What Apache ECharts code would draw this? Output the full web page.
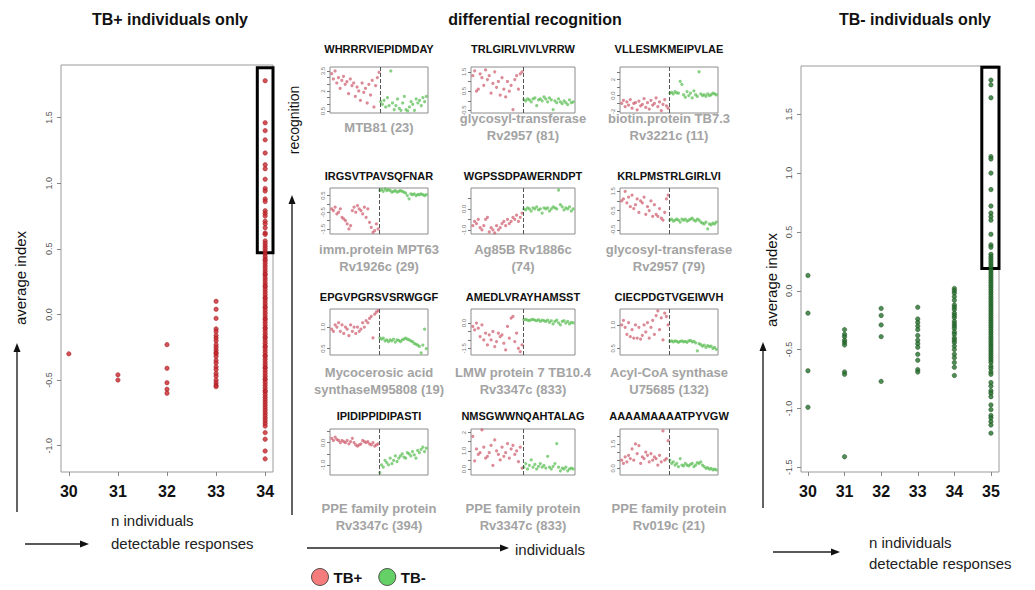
<!DOCTYPE html>
<html><head><meta charset="utf-8">
<script src="https://cdn.jsdelivr.net/npm/echarts@6/dist/echarts.min.js"></script>
<style>html,body{margin:0;padding:0;background:#fff}#c{width:1035px;height:590px}</style>
</head><body><div id="c"></div>
<script>
// ---------------- DATA ----------------
// Left panel: TB+ individuals only (x = n individuals with detectable responses)
const tbPosCats = [30, 31, 32, 33, 34];
const tbPos30 = [-0.30];
const tbPos31 = [-0.46, -0.50];
const tbPos32 = [-0.23, -0.41, -0.52, -0.57, -0.60];
const tbPos33 = [0.10, 0.04, -0.03, -0.11, -0.13, -0.16, -0.18, -0.20, -0.23, -0.25, -0.27, -0.29, -0.30, -0.32, -0.35, -0.37, -0.40, -0.42, -0.45, -0.47, -0.50, -0.52, -0.54, -0.55];
const tbPos34 = [1.78, 1.46, 1.40, 1.33, 1.23, 1.14, 1.11, 1.03, 0.96, 0.94, 0.88, 0.86, 0.79, 0.77, 0.75, 0.71, 0.69, 0.66, 0.62, 0.61, 0.56, 0.54, 0.52, 0.50, 0.48, 0.46, 0.44, 0.42, 0.41, 0.39, 0.37, 0.35, 0.33, 0.31, 0.30, 0.28, 0.26, 0.24, 0.22, 0.21, 0.19, 0.17, 0.15, 0.13, 0.12, 0.10, 0.08, 0.06, 0.05, 0.03, 0.01, -0.01, -0.03, -0.04, -0.06, -0.08, -0.10, -0.11, -0.13, -0.15, -0.17, -0.18, -0.20, -0.22, -0.24, -0.25, -0.27, -0.29, -0.31, -0.32, -0.34, -0.36, -0.38, -0.40, -0.41, -0.43, -0.45, -0.47, -0.49, -0.50, -0.52, -0.54, -0.56, -0.58, -0.59, -0.61, -0.63, -0.65, -0.67, -0.69, -0.71, -0.73, -0.75, -0.77, -0.79, -0.81, -0.83, -0.85, -0.90, -0.95, -1.04, -1.10];
const tbPosYTicks = [-1.0, -0.5, 0.0, 0.5, 1.0, 1.5];

// Right panel: TB- individuals only
const tbNegCats = [30, 31, 32, 33, 34, 35];
const tbNeg30 = [0.13, -0.19, -0.68, -0.99];
const tbNeg31 = [-0.33, -0.37, -0.39, -0.42, -0.44, -0.46, -0.69, -0.71, -1.41];
const tbNeg32 = [-0.15, -0.21, -0.29, -0.39, -0.77];
const tbNeg33 = [-0.14, -0.24, -0.27, -0.30, -0.33, -0.38, -0.42, -0.45, -0.48, -0.54, -0.59, -0.67, -0.69];
const tbNeg34 = [0.02, 0.00, -0.02, -0.05, -0.08, -0.12, -0.14, -0.16, -0.19, -0.21, -0.23, -0.26, -0.28, -0.30, -0.32, -0.35, -0.37, -0.40, -0.42, -0.44, -0.47, -0.50, -0.54, -0.57, -0.61, -0.65, -0.72];
const tbNeg35 = [1.79, 1.75, 1.64, 1.14, 1.12, 1.00, 0.86, 0.72, 0.66, 0.63, 0.60, 0.48, 0.39, 0.37, 0.31, 0.29, 0.27, 0.25, 0.23, 0.21, 0.19, 0.17, 0.15, 0.13, 0.11, 0.09, 0.07, 0.05, 0.03, 0.01, -0.01, -0.03, -0.05, -0.07, -0.09, -0.11, -0.13, -0.15, -0.17, -0.19, -0.21, -0.23, -0.25, -0.27, -0.29, -0.31, -0.33, -0.35, -0.37, -0.39, -0.41, -0.43, -0.45, -0.47, -0.49, -0.51, -0.53, -0.55, -0.57, -0.59, -0.61, -0.64, -0.66, -0.69, -0.71, -0.78, -0.81, -0.85, -0.87, -0.90, -0.97, -1.01, -1.06, -1.08, -1.11, -1.14, -1.21];
const tbNegYTicks = [-1.5, -1.0, -0.5, 0.0, 0.5, 1.0, 1.5];

// Middle: differential recognition, one pair of arrays per peptide (TB+ first, then TB-)
const peptides = ["WHRRRVIEPIDMDAY", "TRLGIRLVIVLVRRW", "VLLESMKMEIPVLAE",
                  "IRGSVTPAVSQFNAR", "WGPSSDPAWERNDPT", "KRLPMSTRLGIRLVI",
                  "EPGVPGRSVSRWGGF", "AMEDLVRAYHAMSST", "CIECPDGTVGEIWVH",
                  "IPIDIPPIDIPASTI", "NMSGWWNQAHTALAG", "AAAAMAAAATPYVGW"];
const proteins = ["MTB81 (23)", "glycosyl-transferase\nRv2957 (81)", "biotin.protein TB7.3\nRv3221c (11)",
                  "imm.protein MPT63\nRv1926c (29)", "Ag85B Rv1886c\n(74)", "glycosyl-transferase\nRv2957 (79)",
                  "Mycocerosic acid\nsynthaseM95808 (19)", "LMW protein 7 TB10.4\nRv3347c (833)", "Acyl-CoA synthase\nU75685 (132)",
                  "PPE family protein\nRv3347c (394)", "PPE family protein\nRv3347c (833)", "PPE family protein\nRv019c (21)"];
const mini1Pos = [3.3, 2.9, 3.5, 2.6, 3.0, 2.2, 2.8, 3.1, 2.5, 2.7, 1.8, 2.9, 2.4, 2.6, 1.6, 2.3, 2.0, 1.3, 2.6, 1.9, 2.2, 1.1, 2.5, 1.7, 2.8, 0.8, 2.4, 3.0, 3.4];
const mini1Neg = [1.2, 1.0, 1.3, 0.8, 1.5, 0.9, 3.5, 1.1, 0.6, 0.9, 1.4, 0.7, 0.55, 1.1, 1.6, 0.6, 0.5, 0.8, 1.2, 1.0, 0.55, 1.4, 1.1, 1.3, 0.9, 1.5, 1.2, 1.6];
const mini2Pos = [1.3, 1.55, 0.5, 0.6, 1.4, 1.2, 0.8, 1.6, 1.1, 1.3, 0.4, 0.9, 1.5, 0.7, 1.0, 0.3, 1.2, 0.6, 0.2, 1.0, 0.5, 0.8, -0.45, 1.1, 1.3, 0.6, 1.4, 1.5];
const mini2Neg = [0.05, 0.0, 0.1, 0.05, -0.05, 0.1, 0.15, -0.25, 0.05, 0.1, 0.0, 0.2, 0.1, -0.05, 0.15, 0.05, -0.45, 0.0, -0.1, 0.1, -0.05, -0.15, 0.0, -0.1, -0.2, 0.05, -0.1, -0.05];
const mini3Pos = [-1.0, -0.6, -1.4, -0.8, -1.2, -0.5, -1.6, -1.0, -0.9, -1.8, -0.7, -1.3, -1.1, -0.4, -1.5, -0.9, -1.7, -0.6, -1.2, -1.0, -0.3, -1.4, -0.8, -1.9, -1.1, -0.5, -1.3, -1.6];
const mini3Neg = [0.3, 0.4, 0.2, 0.5, 0.35, 0.3, 1.8, 1.4, 0.1, -0.2, 0.5, 0.0, 0.3, -0.3, 0.6, 0.1, -0.1, 3.0, 0.2, 0.0, 0.1, -0.1, 0.2, 0.0, 0.1, 0.3, 0.2, 0.1];
const mini4Pos = [-0.3, -0.4, -0.2, -0.6, -0.5, -0.3, -0.8, -0.9, -1.0, -1.2, -1.5, -1.3, -0.4, -0.2, -0.5, -0.1, -0.3, -0.4, -0.6, -0.2, -0.8, -0.3, -1.1, -1.4, -1.7, -1.6, -1.2, -1.5];
const mini4Neg = [0.8, 0.85, 0.75, 0.9, 0.8, 0.85, 0.8, 0.7, 0.75, 0.8, 0.7, 0.75, 0.8, 0.75, 0.7, 0.65, 0.5, 0.3, 0.6, 0.55, 0.6, 0.5, 0.55, 0.55, 0.6, 0.55, 0.5, 0.55];
const mini5Pos = [-0.8, -0.6, -0.7, -0.5, -0.9, -1.0, -0.8, -0.5, -0.4, -1.1, -0.9, -1.0, -1.15, -0.8, -1.0, -0.9, -0.7, -0.6, -0.8, -0.5, -0.7, -0.6, -0.4, -0.5, -0.3, -0.6, -0.4, -0.2];
const mini5Neg = [0.0, -0.05, 0.05, 0.0, -0.1, 0.05, 0.0, 0.1, -0.05, 0.0, -0.2, 0.05, 0.0, 0.05, -0.1, 0.0, 0.1, 0.05, 0.0, 0.9, 0.2, 0.1, -0.05, 0.05, 0.0, 0.1, -0.1, 0.0];
const mini6Pos = [1.0, 1.1, 1.5, 0.9, 1.2, 0.7, 1.3, 0.6, 0.8, 1.1, 0.4, 1.0, 0.9, 1.2, 0.3, 0.7, 0.5, 1.0, 0.2, 0.8, 0.3, 0.2, 0.6, 0.1, 0.0, 0.4, 1.1, 1.3];
const mini6Neg = [0.0, 0.05, -0.05, 0.0, 0.05, 0.0, -0.1, 0.05, 0.0, 0.05, -0.05, 0.0, 0.05, 0.1, 0.0, -0.05, 0.05, 0.0, -0.1, -0.15, -0.2, -0.1, -0.45, -0.2, -0.25, -0.15, -0.2, -0.1];
const mini7Pos = [0.95, 0.9, 1.05, 1.0, 1.1, 0.9, 1.05, 0.85, 1.0, 0.95, 0.8, 1.05, 0.9, 1.0, 0.85, 1.0, 0.9, 0.95, 1.1, 1.0, 1.15, 1.1, 1.2, 1.25, 0.75, 1.3, 1.35, 1.38];
const mini7Neg = [0.75, 0.72, 0.74, 0.68, 0.7, 0.66, 0.7, 0.68, 0.72, 0.65, 0.7, 0.69, 0.66, 0.7, 0.72, 0.74, 0.72, 0.7, 0.68, 0.66, 0.62, 0.6, 0.58, 0.55, 0.4, 0.58, 0.95, 0.5];
const mini8Pos = [-0.2, -0.4, 0.0, -0.3, -0.8, -0.1, -1.0, -0.6, -1.3, -0.7, -1.0, -0.5, -1.4, -1.1, -0.6, -0.8, -0.7, -1.2, -1.6, -0.2, -0.9, 0.3, 0.4, -1.1, -0.6, -1.5, -1.7, -1.3];
const mini8Neg = [0.2, 0.22, 0.18, 0.15, 0.2, 0.22, 0.18, 0.14, 0.2, 0.1, 0.18, 0.14, 0.1, 0.18, 0.05, 0.14, -0.05, 0.1, 0.18, 0.02, -0.1, 0.1, 0.14, 0.0, 0.1, -0.05, 0.05, 0.02];
const mini9Pos = [1.0, 1.1, 0.95, 0.8, 1.05, 0.75, 0.9, 0.72, 1.0, 0.72, 0.95, 0.7, 0.78, 1.0, 0.85, 1.05, 0.72, 0.95, 1.1, 0.8, 1.2, 1.3, 0.9, 1.15, 0.68, 1.25, 1.18, 1.0];
const mini9Neg = [0.65, 0.66, 0.64, 0.66, 0.65, 0.63, 0.65, 0.66, 0.64, 0.65, 0.63, 0.66, 0.67, 0.64, 0.65, 0.62, 0.45, 0.6, 0.58, 0.55, 0.57, 0.52, 0.56, 0.54, 0.55, 0.5, 0.52, 0.48];
const mini10Pos = [0.2, 0.1, 0.25, 0.15, 0.1, 0.0, 0.1, 0.05, 0.0, 0.1, -0.05, 0.05, 0.2, 0.0, -0.1, -0.15, -0.1, -0.05, 0.1, 0.05, 0.0, 0.05, -0.05, -0.1, 0.0, -0.15, -0.1, -0.05];
const mini10Neg = [-1.35, -1.0, -1.1, -0.8, -0.9, -1.0, -0.7, -0.95, -0.8, -0.6, -0.85, -0.7, -0.6, -0.5, -0.65, -0.7, -0.45, -0.5, -0.6, -0.4, -0.55, -0.7, -0.35, -0.45, -0.3, -0.2, -0.4, -0.25];
const mini11Pos = [1.8, 0.45, 1.1, 0.8, 0.9, 2.15, 1.2, 0.6, 0.7, 0.9, 1.3, 0.2, 1.6, 1.0, 0.8, 0.5, 1.2, 0.7, 0.9, 1.4, 0.6, 1.1, 1.3, 0.8, 1.0, 0.4, 1.2, 0.05];
const mini11Neg = [0.1, 0.3, 0.0, 0.2, 0.5, 0.1, 0.25, 0.0, 0.15, 0.3, 0.1, 0.2, 0.05, 0.7, 0.1, 0.0, 0.15, 0.3, 1.4, 0.1, -0.1, 0.05, 0.0, 0.1, -0.1, 0.0, 0.05, 0.0];
const mini12Pos = [0.5, 0.3, 0.7, 0.4, 0.8, 0.6, 1.2, 0.5, 1.5, 0.9, 1.4, 0.3, 0.7, 0.6, 1.0, 0.8, 0.4, 0.9, 0.5, 0.7, 0.6, 0.2, 0.8, 0.4, 2.3, 0.5, 0.6, 1.7];
const mini12Neg = [0.5, 0.3, 0.4, 0.2, 0.3, 0.1, 0.6, 0.2, 0.15, 0.3, 0.2, 0.15, 0.25, 0.3, 0.1, 0.2, 0.35, 0.3, 0.4, 0.2, 0.1, 0.0, 0.05, -0.05, 0.0, -0.1, -0.05, -0.1];
// y-axis range / tick values / labelled ticks of each small panel
const miniYRange = [[0.35, 3.8], [-0.63, 1.75], [-2.2, 3.6], [-1.8, 0.95], [-1.2, 1.0], [-0.72, 1.67],
                    [0.35, 1.42], [-1.9, 0.84], [0.36, 1.34], [-1.46, 0.62], [-0.33, 2.2], [-0.41, 2.42]];
const miniYTicks = [[0.5, 1, 1.5, 2, 2.5, 3, 3.5], [-0.5, 0, 0.5, 1, 1.5], [-2, -1, 0, 1, 2, 3], [-1.5, -1, -0.5, 0, 0.5], [-1, -0.5, 0, 0.5], [-0.5, 0, 0.5, 1, 1.5],
                    [0.5, 1.0], [-1.5, -1, -0.5, 0], [0.5, 1.0], [-1, -0.5, 0, 0.5], [0, 0.5, 1, 1.5, 2], [0, 0.5, 1, 1.5, 2]];
const miniYLabels = [[0.5, 2.0, 3.5], [-0.5, 0.5, 1.5], [-2, 0, 2], [-1.5, -0.5, 0.5], [-1.0, 0.0], [-0.5, 0.5, 1.5],
                     [0.5, 1.0], [-1.5, 0.0], [0.5, 1.0], [-1.0, 0.0], [0.0, 1.0, 2.0], [0.0, 1.5]];
const miniPos = [mini1Pos, mini2Pos, mini3Pos, mini4Pos, mini5Pos, mini6Pos, mini7Pos, mini8Pos, mini9Pos, mini10Pos, mini11Pos, mini12Pos];
const miniNeg = [mini1Neg, mini2Neg, mini3Neg, mini4Neg, mini5Neg, mini6Neg, mini7Neg, mini8Neg, mini9Neg, mini10Neg, mini11Neg, mini12Neg];

// ---------------- LAYOUT ----------------
const FONT = "'Liberation Sans', Arial, sans-serif";
const colLeft = [330, 471, 620], colW = [98, 104, 98];
const rowTop = [67, 188, 309, 429], rowH = 46;
const seqY = [49, 176, 297, 416];
const nameY = [127, 258, 381, 516.5];

const grids = [
  {left: 61, top: 65, width: 212, height: 407},
  {left: 801, top: 66, width: 198, height: 406}
];
grids.forEach(g => { g.show = true; g.borderColor = '#9a9a9a'; g.borderWidth = 1; g.backgroundColor = 'transparent'; g.outerBoundsMode = 'none'; });

const fmt = v => (Number.isInteger(v) && Math.abs(v) >= 2 ? String(v) : v.toFixed(1));

function mainX(idx, min, max, cats) {
  return {gridIndex: idx, type: 'value', min: min, max: max, position: 'bottom',
    axisLine: {show: false, onZero: false}, splitLine: {show: false},
    axisTick: {show: true, length: 4, lineStyle: {color: '#888'}, customValues: cats},
    axisLabel: {customValues: cats, margin: 11, fontSize: 16, fontWeight: 'bold', color: '#111', fontFamily: FONT}};
}
function mainY(idx, min, max, ticks) {
  return {gridIndex: idx, type: 'value', min: min, max: max, position: 'left',
    axisLine: {show: false, onZero: false}, splitLine: {show: false},
    axisTick: {show: true, length: 4, lineStyle: {color: '#888'}, customValues: ticks},
    axisLabel: {customValues: ticks, rotate: 90, margin: 8, fontSize: 9, color: '#555', fontFamily: FONT, formatter: v => v.toFixed(1)}};
}

const xAxes = [mainX(0, 29.84, 34.16, tbPosCats), mainX(1, 29.81, 35.22, tbNegCats)];
const yAxes = [mainY(0, -1.2, 1.9, tbPosYTicks), mainY(1, -1.54, 1.91, tbNegYTicks)];
const series = [];

const posCols = [tbPos30, tbPos31, tbPos32, tbPos33, tbPos34];
posCols.forEach((arr, i) => {
  const s = {type: 'scatter', name: 'TB+ only', xAxisIndex: 0, yAxisIndex: 0, symbolSize: 4.5, clip: false, silent: true,
    itemStyle: {color: '#c8242b', borderColor: '#8e1a1e', borderWidth: 0.5},
    data: arr.map(v => [tbPosCats[i], v])};
  if (i === posCols.length - 1) {
    s.markArea = {silent: true, itemStyle: {color: 'rgba(0,0,0,0)', borderColor: '#000', borderWidth: 3},
      data: [[{coord: [33.84, 1.88]}, {coord: [34.2, 0.47]}]]};
  }
  series.push(s);
});
const negCols = [tbNeg30, tbNeg31, tbNeg32, tbNeg33, tbNeg34, tbNeg35];
negCols.forEach((arr, i) => {
  const s = {type: 'scatter', name: 'TB- only', xAxisIndex: 1, yAxisIndex: 1, symbolSize: 4.5, clip: false, silent: true,
    itemStyle: {color: '#23702a', borderColor: '#173f19', borderWidth: 0.5},
    data: arr.map(v => [tbNegCats[i], v])};
  if (i === negCols.length - 1) {
    s.markArea = {silent: true, itemStyle: {color: 'rgba(0,0,0,0)', borderColor: '#000', borderWidth: 3},
      data: [[{coord: [34.75, 1.90]}, {coord: [35.22, 0.19]}]]};
  }
  series.push(s);
});

const graphics = [];
function txt(x, y, text, font, fill, align, rot) {
  graphics.push({type: 'text', x: x, y: y, rotation: rot || 0, silent: true,
    style: {text: text, x: 0, y: 0, font: font, fill: fill || '#000',
      textAlign: align || 'center', align: align || 'center', textVerticalAlign: 'middle', verticalAlign: 'middle', lineHeight: 17}});
}

for (let k = 0; k < 12; k++) {
  const r = Math.floor(k / 3), c = k % 3;
  const gi = grids.length;
  grids.push({left: colLeft[c], top: rowTop[r], width: colW[c], height: rowH, show: true,
    borderColor: '#8c8c8c', borderWidth: 1, backgroundColor: 'transparent', outerBoundsMode: 'none'});
  const nP = miniPos[k].length, nN = miniNeg[k].length;
  xAxes.push({gridIndex: gi, type: 'value', min: 0, max: nP + nN + 1, show: false});
  yAxes.push({gridIndex: gi, type: 'value', min: miniYRange[k][0], max: miniYRange[k][1], position: 'left',
    axisLine: {show: false, onZero: false}, splitLine: {show: false},
    axisTick: {show: true, length: 3, lineStyle: {color: '#777'}, customValues: miniYTicks[k]},
    axisLabel: {customValues: miniYLabels[k], rotate: 90, margin: 4, fontSize: 6, color: '#777', fontFamily: FONT, formatter: fmt}});
  series.push({type: 'scatter', name: 'TB+', xAxisIndex: gi, yAxisIndex: gi, symbolSize: 3.2, silent: true,
    itemStyle: {color: 'rgba(204,82,100,0.85)'},
    data: miniPos[k].map((v, i) => [i + 1, v]),
    markLine: {silent: true, symbol: 'none', label: {show: false},
      lineStyle: {type: 'dashed', color: '#555', width: 1}, data: [{xAxis: nP + 0.5}]}});
  series.push({type: 'scatter', name: 'TB-', xAxisIndex: gi, yAxisIndex: gi, symbolSize: 3.2, silent: true,
    itemStyle: {color: 'rgba(80,186,72,0.85)'},
    data: miniNeg[k].map((v, i) => [nP + i + 1, v])});
  const cx = colLeft[c] + colW[c] / 2;
  txt(cx, seqY[r], peptides[k], 'bold 11px ' + FONT, '#111');
  txt(cx, nameY[r], proteins[k], 'bold 13px ' + FONT, '#a3a3a3');
}

// titles
txt(170, 19, 'TB+ individuals only', 'bold 16px ' + FONT, '#111');
txt(535, 19, 'differential recognition', 'bold 16px ' + FONT, '#111');
txt(915, 19, 'TB- individuals only', 'bold 16px ' + FONT, '#111');
// axis captions
txt(20, 278, 'average index', '15px ' + FONT, '#111', 'center', Math.PI / 2);
txt(294, 120, 'recognition', '14px ' + FONT, '#111', 'center', Math.PI / 2);
txt(771, 280, 'average index', '15px ' + FONT, '#111', 'center', Math.PI / 2);
txt(111, 520, 'n individuals', '15px ' + FONT, '#222', 'left');
txt(111, 543, 'detectable responses', '15px ' + FONT, '#222', 'left');
txt(515, 549, 'individuals', '15px ' + FONT, '#222', 'left');
txt(869, 542, 'n individuals', '15px ' + FONT, '#222', 'left');
txt(869, 563, 'detectable responses', '15px ' + FONT, '#222', 'left');

function arrowV(x, yb, yt) {
  graphics.push({type: 'line', silent: true, shape: {x1: x, y1: yb, x2: x, y2: yt + 7}, style: {stroke: '#222', lineWidth: 1.4}});
  graphics.push({type: 'polygon', silent: true, shape: {points: [[x, yt], [x - 3.5, yt + 9], [x + 3.5, yt + 9]]}, style: {fill: '#111'}});
}
function arrowH(x1, x2, y) {
  graphics.push({type: 'line', silent: true, shape: {x1: x1, y1: y, x2: x2 - 7, y2: y}, style: {stroke: '#222', lineWidth: 1.4}});
  graphics.push({type: 'polygon', silent: true, shape: {points: [[x2, y], [x2 - 9, y - 3.5], [x2 - 9, y + 3.5]]}, style: {fill: '#111'}});
}
arrowV(17, 512, 343);
arrowV(292, 515, 195);
arrowV(763, 508, 342);
arrowH(25, 89, 544);
arrowH(307, 509, 548);
arrowH(773, 840, 552);

const chart = echarts.init(document.getElementById('c'), null, {renderer: 'svg'});
chart.setOption({
  animation: false,
  backgroundColor: '#fff',
  grid: grids,
  xAxis: xAxes,
  yAxis: yAxes,
  series: series,
  legend: {show: true, left: 309, top: 566, orient: 'horizontal', selectedMode: false, icon: 'circle',
    itemWidth: 17, itemHeight: 17, itemGap: 16, padding: 2,
    textStyle: {fontSize: 15, fontWeight: 'bold', color: '#111', fontFamily: FONT, lineHeight: 17},
    data: [
      {name: 'TB+', itemStyle: {color: '#f25b5b', borderColor: '#333', borderWidth: 1}},
      {name: 'TB-', itemStyle: {color: '#3fc43f', borderColor: '#333', borderWidth: 1}}
    ]},
  graphic: {elements: graphics}
});
</script>
</body></html>
